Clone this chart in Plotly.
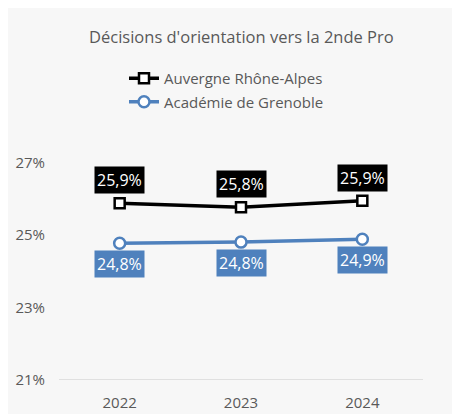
import plotly.graph_objects as go

years = ["2022", "2023", "2024"]
auvergne = [25.87, 25.76, 25.94]
grenoble = [24.77, 24.80, 24.88]
y_ticks = [21, 23, 25, 27]
y_tick_labels = ["21%", "23%", "25%", "27%"]

BLACK = "#000000"
BLUE = "#4F81BD"
GREY = "#595959"
FONT = "Open Sans"

# page offset (body margin) compensation: screen px -> figure px
S = 8
W, H = 460, 414
L, R, T, B = 59 - S, W - (423 - S), 126 - S, H - (380 - S)
pw, ph = W - L - R, H - T - B

def px_x(p):
    return (p - S - L) / pw

def px_y(p):
    return (H - B - (p - S)) / ph

def fmt(v):
    return f"{v:.1f}".replace(".", ",") + "%"

fig = go.Figure()
fig.add_trace(go.Scatter(
    x=years, y=auvergne, name="Auvergne Rhône-Alpes", mode="lines+markers",
    legendgroup="a",
    line=dict(color=BLACK, width=3.5),
    marker=dict(symbol="square", size=10, color="white", line=dict(color=BLACK, width=2.5)),
))
fig.add_trace(go.Scatter(
    x=years, y=grenoble, name="Académie de Grenoble", mode="lines+markers",
    legendgroup="b",
    line=dict(color=BLUE, width=3.5),
    marker=dict(symbol="circle", size=11, color="white", line=dict(color=BLUE, width=2.5)),
))

annotations = []
for i, v in enumerate(auvergne):
    annotations.append(dict(x=i, y=v, xref="x", yref="y", text=fmt(v), showarrow=False,
                            yshift=23, bgcolor=BLACK, borderpad=2,
                            font=dict(color="white", size=16, family=FONT)))
for i, v in enumerate(grenoble):
    annotations.append(dict(x=i, y=v, xref="x", yref="y", text=fmt(v), showarrow=False,
                            yshift=-21, bgcolor=BLUE, borderpad=2,
                            font=dict(color="white", size=16, family=FONT)))
annotations.append(dict(x=px_x(241), y=px_y(37), xref="paper", yref="paper",
                        text="Décisions d'orientation vers la 2nde Pro", showarrow=False,
                        xanchor="center", yanchor="middle",
                        font=dict(color=GREY, size=16.5, family=FONT)))

fig.update_layout(
    width=W, height=H,
    margin=dict(l=L, r=R, t=T, b=B, autoexpand=False),
    paper_bgcolor="white",
    plot_bgcolor="rgba(0,0,0,0)",
    font=dict(family=FONT, color=GREY),
    showlegend=True,
    legend=dict(x=px_x(124), y=px_y(62), xanchor="left", yanchor="top",
                bgcolor="rgba(0,0,0,0)", font=dict(size=15, color=GREY, family=FONT),
                tracegroupgap=1, itemwidth=30),
    annotations=annotations,
    shapes=[dict(type="rect", xref="paper", yref="paper",
                 x0=px_x(6.5), x1=px_x(458.5), y0=px_y(425), y1=px_y(4.5),
                 fillcolor="#F7F7F7", line=dict(color="#D9D9D9", width=1), layer="below")],
    xaxis=dict(type="category", range=[-0.5, 2.5], showgrid=False, zeroline=False,
               showline=False, tickfont=dict(size=15, color=GREY, family=FONT), ticks="",
               ticklabelstandoff=12, automargin=False),
    yaxis=dict(range=[21, 28], tickvals=y_ticks, ticktext=y_tick_labels, showgrid=False,
               zeroline=False, showline=False, ticks="", ticklabelstandoff=13,
               automargin=False,
               tickfont=dict(size=15, color=GREY, family=FONT)),
)
fig.add_hline(y=21, line=dict(color="#D9D9D9", width=1.5))

fig.write_html("out.html")
